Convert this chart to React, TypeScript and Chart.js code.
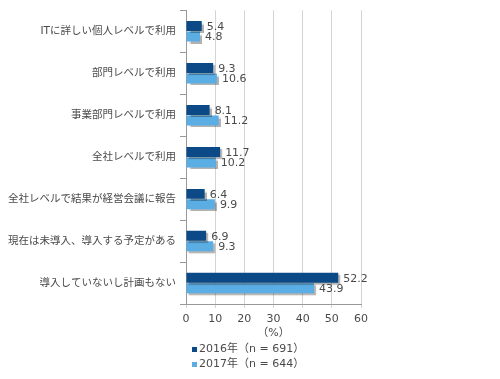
import React, { useEffect, useRef } from "react";
import { Chart, registerables } from "chart.js";

Chart.register(...registerables);

const categories = [
  "ITに詳しい個人レベルで利用",
  "部門レベルで利用",
  "事業部門レベルで利用",
  "全社レベルで利用",
  "全社レベルで結果が経営会議に報告",
  "現在は未導入、導入する予定がある",
  "導入していないし計画もない",
];
const series2016 = [5.4, 9.3, 8.1, 11.7, 6.4, 6.9, 52.2];
const series2017 = [4.8, 10.6, 11.2, 10.2, 9.9, 9.3, 43.9];
const seriesLabels = ["2016年（n = 691）", "2017年（n = 644）"];
const xTicks = [0, 10, 20, 30, 40, 50, 60];
const axisTitle = "（%）";

const COLORS = ["#0b4a86", "#5aaee4"];
const FONT = '"DejaVu Sans", "Noto Sans CJK JP", sans-serif';
const TEXT = "#4a4a4a";

const shadowPlugin = {
  id: "barShadow",
  beforeDatasetDraw(chart: any) {
    const ctx = chart.ctx;
    ctx.save();
    ctx.shadowColor = "rgba(0,0,0,0.3)";
    ctx.shadowOffsetX = 2;
    ctx.shadowOffsetY = 2;
    ctx.shadowBlur = 1;
  },
  afterDatasetDraw(chart: any) {
    chart.ctx.restore();
  },
};

const labelPlugin = {
  id: "valueLabels",
  afterDatasetsDraw(chart: any) {
    const ctx = chart.ctx;
    ctx.save();
    ctx.font = `11px ${FONT}`;
    ctx.fillStyle = TEXT;
    ctx.textAlign = "left";
    ctx.textBaseline = "middle";
    chart.data.datasets.forEach((ds: any, i: number) => {
      const meta = chart.getDatasetMeta(i);
      meta.data.forEach((el: any, j: number) => {
        ctx.fillText(Number(ds.data[j]).toFixed(1), el.x + 5, el.y + 1);
      });
    });
    ctx.restore();
  },
};

const legendPlugin = {
  id: "customLegend",
  afterDraw(chart: any) {
    const ctx = chart.ctx;
    ctx.save();
    ctx.font = `11px ${FONT}`;
    ctx.textBaseline = "middle";
    ctx.textAlign = "left";
    const x0 = chart.chartArea.left + 6;
    chart.data.datasets.forEach((ds: any, i: number) => {
      const y = 349 + i * 15;
      ctx.fillStyle = ds.backgroundColor;
      ctx.fillRect(x0, y - 2, 5, 5);
      ctx.fillStyle = TEXT;
      ctx.fillText(ds.label, x0 + 7, y);
    });
    ctx.restore();
  },
};

export default function App() {
  const ref = useRef<HTMLCanvasElement>(null);
  useEffect(() => {
    if (!ref.current) return;
    const chart = new Chart(ref.current, {
      type: "bar",
      data: {
        labels: categories,
        datasets: [
          {
            label: seriesLabels[0],
            data: series2016,
            backgroundColor: COLORS[0],
            borderWidth: 0,
            categoryPercentage: 0.5,
            barPercentage: 0.95,
          },
          {
            label: seriesLabels[1],
            data: series2017,
            backgroundColor: COLORS[1],
            borderWidth: 0,
            categoryPercentage: 0.5,
            barPercentage: 0.95,
          },
        ],
      },
      options: {
        indexAxis: "y",
        animation: false,
        responsive: false,
        maintainAspectRatio: false,
        devicePixelRatio: 1,
        layout: { padding: { top: 6, right: 139, bottom: 39, left: 0 } },
        plugins: {
          legend: { display: false },
          tooltip: { enabled: false },
        },
        scales: {
          x: {
            min: 0,
            max: 60,
            afterBuildTicks: (scale: any) => {
              scale.ticks = xTicks.map((v) => ({ value: v }));
            },
            afterFit: (scale: any) => {
              scale.height = 36;
            },
            grid: { color: "#d4d4d4", tickLength: 4, lineWidth: 1 },
            border: { color: "#999999" },
            ticks: { color: TEXT, font: { family: FONT, size: 11 }, padding: 5 },
            title: {
              display: true,
              text: axisTitle,
              color: TEXT,
              font: { family: FONT, size: 11 },
              padding: { top: 0, bottom: 0 },
            },
          },
          y: {
            type: "category",
            afterFit: (scale: any) => {
              scale.width = 186;
            },
            grid: {
              display: true,
              drawOnChartArea: false,
              offset: true,
              tickLength: 6,
              color: "#999999",
            },
            border: { color: "#999999" },
            ticks: { color: TEXT, font: { family: FONT, size: 10.5 }, padding: 4 },
          },
        },
      },
      plugins: [shadowPlugin, labelPlugin, legendPlugin],
    } as any);
    return () => chart.destroy();
  }, []);
  return (
    <div style={{ position: "absolute", left: 0, top: 0, width: 500, height: 379, background: "#fff" }}>
      <canvas ref={ref} width={500} height={379} />
    </div>
  );
}
